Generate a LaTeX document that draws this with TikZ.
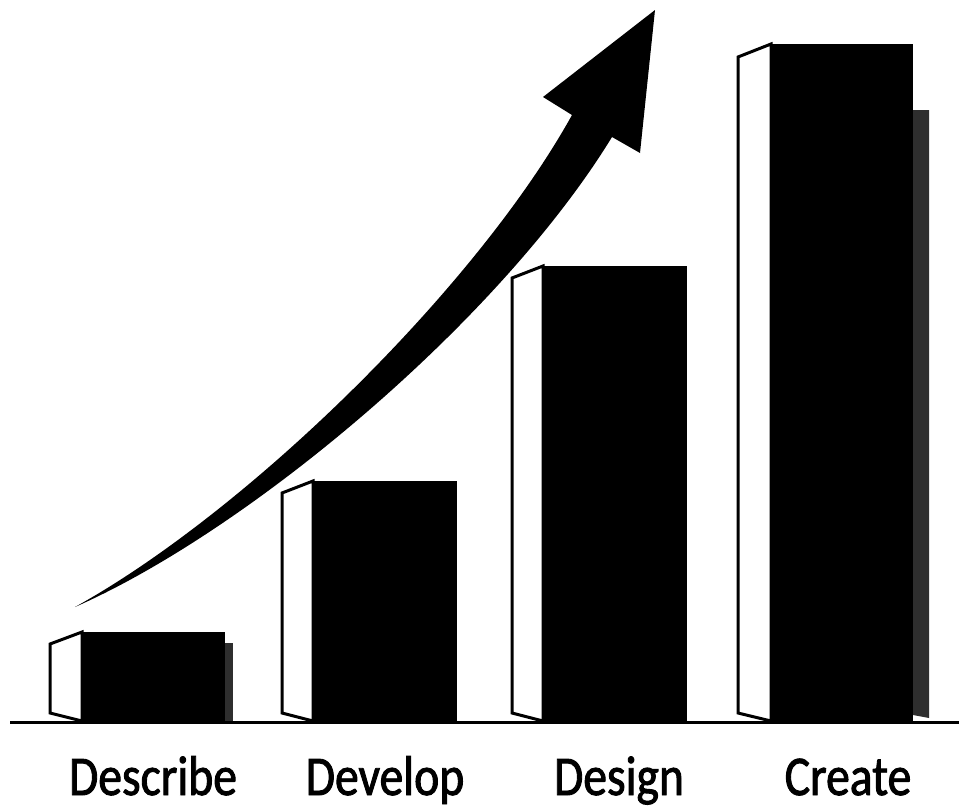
\documentclass[tikz,border=0pt]{standalone}
\usepackage{fontspec}
\newfontfamily\labelfont[FakeStretch=0.85,FakeBold=1.6]{Carlito}
\begin{document}
\begin{tikzpicture}[x=1pt,y=-1pt,
  sideface/.style={fill=white,draw=black,line width=3pt,line join=miter},
  frontface/.style={fill=black},
  dropshade/.style={fill=black!82},
  groundline/.style={draw=black,line width=3pt},
  stagelabel/.style={font=\labelfont\fontsize{56}{62}\selectfont,anchor=base,inner sep=0pt}]
\useasboundingbox[fill=white] (0,0) rectangle (959,809);

% shadows behind the first and last bar
\fill[dropshade] (225,643) rectangle (233,721);
\fill[dropshade] (913,110) -- (929,110) -- (929,718) -- (913,715) -- cycle;

% bar fronts
\fill[frontface] (82,632) rectangle (225,722);
\fill[frontface] (313,481) rectangle (457,722);
\fill[frontface] (543,266) rectangle (687,722);
\fill[frontface] (771,44) rectangle (913,722);

% bar side faces
\draw[sideface] (82,632) -- (50,644) -- (50,713) -- (82,721) -- cycle;
\draw[sideface] (313,481) -- (282,493) -- (282,713) -- (313,721) -- cycle;
\draw[sideface] (543,266) -- (512,278) -- (512,713) -- (543,721) -- cycle;
\draw[sideface] (771,44) -- (738,57) -- (738,713) -- (771,721) -- cycle;

% ground line
\coordinate (g0) at (10,722);
\coordinate (g1) at (959,722);
\draw[groundline] (g0) -- (g1);

% rising arrow: tapered shaft and head
\coordinate (tail) at (75,607);
\coordinate (notchL) at (572,115);
\coordinate (barbL) at (543,97);
\coordinate (tip) at (655,10);
\coordinate (barbR) at (640,153);
\coordinate (notchR) at (612,137);
\fill[black] (tail) .. controls (250,510) and (478,285) .. (notchL)
  -- (barbL) -- (tip) -- (barbR) -- (notchR)
  .. controls (500,320) and (250,530) .. (tail) -- cycle;

% stage labels
\node[stagelabel] (describe) at (153,795) {Describe};
\node[stagelabel] (develop) at (385,795) {Develop};
\node[stagelabel] (design) at (619,795) {Design};
\node[stagelabel] (create) at (848,795) {Create};
\end{tikzpicture}
\end{document}
